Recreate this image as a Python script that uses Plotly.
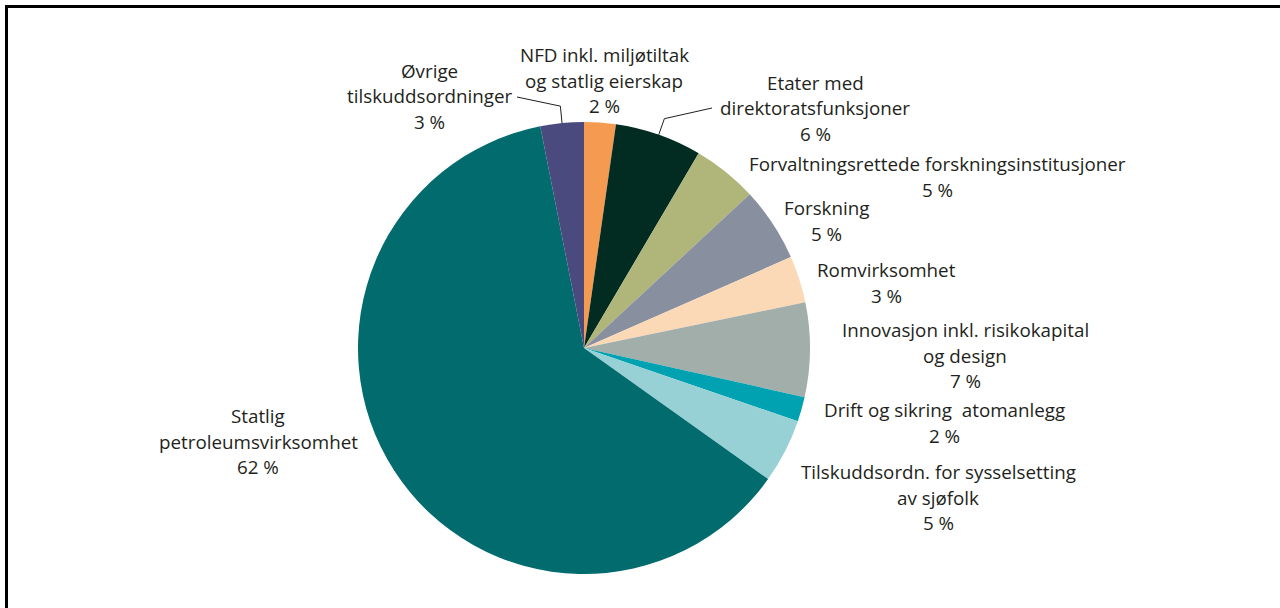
import math
import plotly.graph_objects as go

# ---------------- data ----------------
categories = [
    "NFD inkl. miljøtiltak og statlig eierskap",
    "Etater med direktoratsfunksjoner",
    "Forvaltningsrettede forskningsinstitusjoner",
    "Forskning",
    "Romvirksomhet",
    "Innovasjon inkl. risikokapital og design",
    "Drift og sikring  atomanlegg",
    "Tilskuddsordn. for sysselsetting av sjøfolk",
    "Statlig petroleumsvirksomhet",
    "Øvrige tilskuddsordninger",
]
values = [2.26, 6.21, 4.63, 5.31, 3.34, 6.74, 1.76, 4.60, 62.05, 3.10]
label_lines = [
    ["NFD inkl. miljøtiltak", "og statlig eierskap"],
    ["Etater med", "direktoratsfunksjoner"],
    ["Forvaltningsrettede forskningsinstitusjoner"],
    ["Forskning"],
    ["Romvirksomhet"],
    ["Innovasjon inkl. risikokapital", "og design"],
    ["Drift og sikring  atomanlegg"],
    ["Tilskuddsordn. for sysselsetting", "av sjøfolk"],
    ["Statlig", "petroleumsvirksomhet"],
    ["Øvrige", "tilskuddsordninger"],
]
colors = ["#F59B51", "#022B21", "#B0B57A", "#88909F", "#FBD9B6",
          "#A2AEAA", "#00A2B1", "#97D1D5", "#016B6E", "#4B4A7E"]

# ---------------- layout (pixels) ----------------
W, H = 1280, 608
CX, CY, R = 584, 348, 226
FONT = "Open Sans"
FS = 18.8
LINE_H = 25.5
# label block: (x centre, y centre of first line) in pixels
label_pos = [
    (604, 55), (815, 83), (937, 164), (826, 208), (886, 270),
    (965, 330), (944, 410), (938, 472), (258, 416), (429, 71),
]
# leader lines: index -> text end pixel
leaders = {9: (517, 97), 1: (712, 108)}


def px(x):
    return x / W


def py(y):
    return 1 - y / H


fig = go.Figure(go.Pie(
    labels=categories,
    values=values,
    sort=False,
    direction="clockwise",
    rotation=0,
    marker=dict(colors=colors, line=dict(width=0)),
    textinfo="none",
    hoverinfo="label+percent",
    showlegend=False,
    domain=dict(x=[px(CX - R), px(CX + R)], y=[py(CY + R), py(CY - R)]),
))

annotations = []
total = sum(values)
for i, lines in enumerate(label_lines):
    x0, y0 = label_pos[i]
    all_lines = lines + [f"{round(values[i] / total * 100)} %"]
    for k, t in enumerate(all_lines):
        annotations.append(dict(
            x=px(x0), y=py(y0 + k * LINE_H), xref="paper", yref="paper",
            text=t, showarrow=False, xanchor="center", yanchor="middle",
            font=dict(family=FONT, size=FS, color="#231F20"),
        ))

shapes = []
cum = 0
mids = []
for v in values:
    mids.append((cum + v / 2) / total * 2 * math.pi)
    cum += v
for i, (tx, ty) in leaders.items():
    a = mids[i]
    sx, sy = math.sin(a), -math.cos(a)
    p0 = (CX + R * sx, CY + R * sy)
    p1 = (CX + (R + 17) * sx, CY + (R + 17) * sy)
    path = (f"M {px(p0[0])},{py(p0[1])} L {px(p1[0])},{py(p1[1])} "
            f"L {px(tx)},{py(ty)}")
    shapes.append(dict(type="path", path=path, xref="paper", yref="paper",
                       line=dict(color="#231F20", width=1)))

# frame
shapes.append(dict(type="rect", xref="paper", yref="paper",
                   x0=px(6.5), x1=px(1300), y0=py(640), y1=py(6.5),
                   line=dict(color="black", width=3)))

fig.update_layout(
    width=W, height=H,
    margin=dict(l=0, r=0, t=0, b=0),
    paper_bgcolor="white", plot_bgcolor="white",
    annotations=annotations, shapes=shapes,
)
fig.write_html("out.html",
               config={"displayModeBar": False},
               post_script="document.body.style.margin='0';"
                           "document.body.style.overflow='hidden';")
